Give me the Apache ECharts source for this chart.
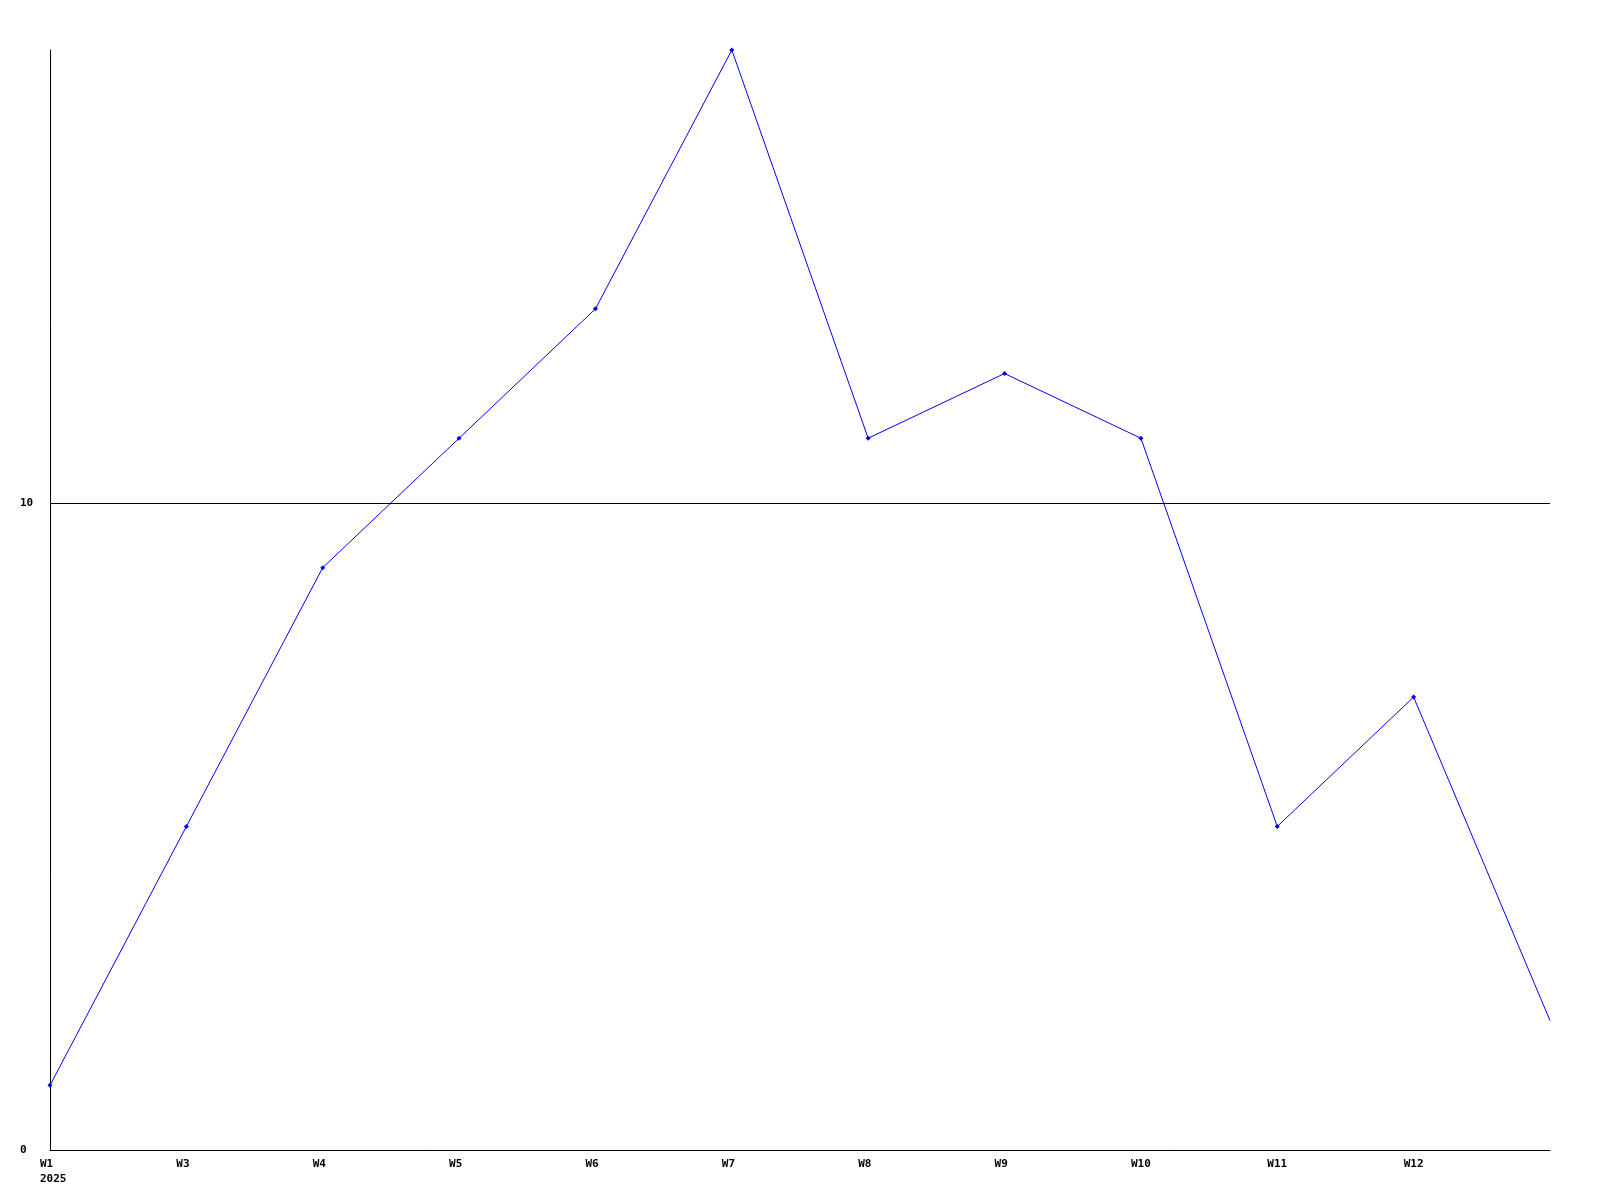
<!DOCTYPE html>
<html>
<head>
<meta charset="utf-8">
<script src="https://cdn.jsdelivr.net/npm/echarts@6/dist/echarts.min.js"></script>
<style>
html,body{margin:0;padding:0;background:#fff;}
#chart{width:1600px;height:1200px;}
</style>
</head>
<body>
<div id="chart"></div>
<script>
var categories = ['W1','W3','W4','W5','W6','W7','W8','W9','W10','W11','W12',''];
var values = [1,5,9,11,13,17,11,12,11,5,7,2];
var yearLabel = '2025';
var yTicks = [0,10];
var refLineValue = 10;

var seriesData = values.map(function(v, i){
  return i === values.length - 1 ? {value: v, symbol: 'none'} : v;
});

var chart = echarts.init(document.getElementById('chart'), null, {renderer:'canvas'});
chart.setOption({
  animation: false,
  backgroundColor: '#ffffff',
  grid: {left: 50, right: 50, top: 50, bottom: 50, containLabel: false},
  xAxis: {
    type: 'category',
    data: categories,
    boundaryGap: false,
    axisLine: {show: true, lineStyle: {color: '#000', width: 1}},
    axisTick: {show: false},
    splitLine: {show: false},
    axisLabel: {
      interval: 0,
      margin: 7,
      align: 'left',
      padding: [0,0,0,-10],
      color: '#000',
      fontFamily: 'DejaVu Sans Mono',
      fontWeight: 'bold',
      fontSize: 11,
      lineHeight: 15,
      formatter: function(v, i){ return i === 0 ? v + '\n' + yearLabel : v; }
    }
  },
  yAxis: {
    type: 'value',
    min: 0,
    max: 17,
    interval: 10,
    axisLine: {show: true, lineStyle: {color: '#000', width: 1}},
    axisTick: {show: false},
    splitLine: {show: false},
    axisLabel: {
      showMaxLabel: false,
      margin: 30,
      align: 'left',
      color: '#000',
      fontFamily: 'DejaVu Sans Mono',
      fontWeight: 'bold',
      fontSize: 11,
      formatter: function(v){ return yTicks.indexOf(v) >= 0 ? String(v) : ''; }
    }
  },
  series: [{
    type: 'line',
    data: seriesData,
    symbol: 'diamond',
    symbolSize: 5,
    showSymbol: true,
    lineStyle: {color: '#0000ff', width: 1},
    itemStyle: {color: '#0000ff'},
    markLine: {
      silent: true,
      symbol: ['none','none'],
      label: {show: false},
      lineStyle: {color: '#000', width: 1, type: 'solid'},
      data: [{yAxis: refLineValue}]
    }
  }]
});
</script>
</body>
</html>
